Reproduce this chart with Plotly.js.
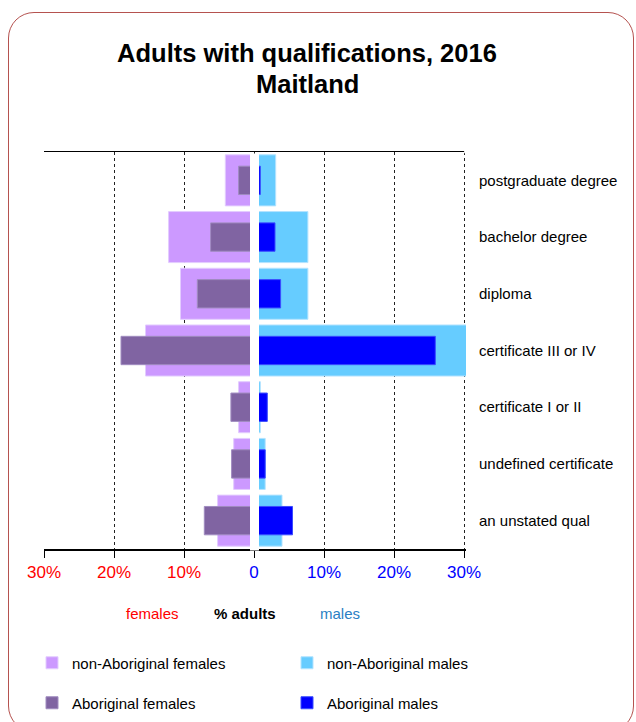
<!DOCTYPE html>
<html>
<head>
<meta charset="utf-8">
<script src="https://cdn.plot.ly/plotly-3.0.1.min.js"></script>
<style>
  html, body { margin: 0; padding: 0; background: #fff; }
  #wrap { position: relative; width: 636px; height: 722px; overflow: hidden; }
  #chart { position: absolute; left: 0; top: 0; width: 636px; height: 722px; }
  #frame { position: absolute; left: 8px; top: 12px; width: 626px; height: 720px;
           border: 1px solid #b5524f; border-radius: 26px; pointer-events: none; box-sizing: border-box; }
</style>
</head>
<body>
<div id="wrap">
  <div id="chart"></div>
  <div id="frame"></div>
</div>
<script>
// ---- data (percent of adults) ----
const categories = ["postgraduate degree", "bachelor degree", "diploma", "certificate III or IV",
                    "certificate I or II", "undefined certificate", "an unstated qual"];
const nonAboriginalFemales = [4.1, 12.2, 10.5, 15.5, 2.2, 2.9, 5.2];
const aboriginalFemales    = [2.2, 6.2, 8.1, 19.0, 3.3, 3.2, 7.1];
const nonAboriginalMales   = [3.1, 7.7, 7.7, 30.5, 0.9, 1.6, 4.0];
const aboriginalMales      = [0.9, 3.0, 3.8, 25.9, 1.9, 1.6, 5.5];
const tickValues = [-30, -20, -10, 0, 10, 20, 30];
const tickLabels = ["30%", "20%", "10%", "0", "10%", "20%", "30%"];

const FONT = "Liberation Sans, Arial, Helvetica, sans-serif";
const neg = a => a.map(v => -v);

const traces = [
  { type: "bar", orientation: "h", name: "non-Aboriginal females", y: categories, x: neg(nonAboriginalFemales),
    width: 0.9, marker: { color: "#cc99ff", line: { color: "#e3ccff", width: 1 } }, legend: "legend", hoverinfo: "y+name" },
  { type: "bar", orientation: "h", name: "non-Aboriginal males", y: categories, x: nonAboriginalMales,
    width: 0.9, marker: { color: "#66ccff", line: { color: "#b3e3ff", width: 1 } }, legend: "legend2", hoverinfo: "y+name" },
  { type: "bar", orientation: "h", name: "Aboriginal females", y: categories, x: neg(aboriginalFemales),
    width: 0.5, marker: { color: "#8064a2", line: { color: "#a08cc0", width: 1 } }, legend: "legend3", hoverinfo: "y+name" },
  { type: "bar", orientation: "h", name: "Aboriginal males", y: categories, x: aboriginalMales,
    width: 0.5, marker: { color: "#0000ff", line: { color: "#3a4cff", width: 1 } }, legend: "legend4", hoverinfo: "y+name" }
];

const coloredTicks = tickLabels.map((t, i) =>
  '<span style="color:' + (tickValues[i] < 0 ? '#ff0000' : '#0000ff') + '">' + t + '</span>');

function legendAt(px, py) {
  return {
    orientation: "h", xref: "container", yref: "container", x: px / 636, y: 1 - py / 722,
    xanchor: "left", yanchor: "middle",
    font: { family: FONT, size: 15, color: "#000" }, bgcolor: "rgba(0,0,0,0)"
  };
}

const layout = {
  width: 636, height: 722,
  margin: { l: 44, r: 170, t: 152, b: 173 },
  paper_bgcolor: "#ffffff", plot_bgcolor: "#ffffff",
  font: { family: FONT, size: 15, color: "#000" },
  barmode: "overlay",
  showlegend: true,
  title: {
    text: "<b>Adults with qualifications, 2016</b>",
    font: { family: FONT, size: 25.5, color: "#000" },
    xref: "container", x: 0.4827, xanchor: "center",
    yref: "container", y: 1 - 62 / 722, yanchor: "bottom", pad: { t: 0, b: 0 }
  },
  xaxis: {
    range: [-30, 30.286], fixedrange: true,
    tickvals: tickValues, ticktext: coloredTicks,
    tickfont: { family: FONT, size: 17 },
    showgrid: true, gridcolor: "#222", griddash: "dot", gridwidth: 1,
    zeroline: false,
    showline: true, linecolor: "#000", linewidth: 1.5, mirror: true,
    ticks: "outside", ticklen: 7, tickcolor: "#000", tickwidth: 1
  },
  yaxis: {
    type: "category", autorange: "reversed", side: "right",
    tickfont: { family: FONT, size: 15, color: "#000" },
    showgrid: false, zeroline: false, showline: false, ticks: "",
    ticklabelstandoff: 12, fixedrange: true
  },
  shapes: [
    { type: "rect", xref: "x", yref: "paper", x0: -0.571, x1: 0.714, y0: -0.004, y1: 0.996,
      fillcolor: "#ffffff", line: { width: 0 }, layer: "above" },
    { type: "rect", xref: "paper", yref: "paper", x0: 0.9955, x1: 1.01, y0: 0.997, y1: 1.01,
      fillcolor: "#ffffff", line: { width: 0 }, layer: "above" }
  ],
  annotations: [
    { text: "<b>Maitland</b>", xref: "paper", yref: "paper", x: (307 - 44) / 422, y: (549 - 84) / 397,
      xanchor: "center", yanchor: "middle", showarrow: false, font: { family: FONT, size: 25.5, color: "#000" } },
    { text: "females", xref: "paper", yref: "paper", x: (152 - 44) / 422, y: (549 - 613) / 397,
      xanchor: "center", yanchor: "middle", showarrow: false, font: { family: FONT, size: 15, color: "#ff0000" } },
    { text: "<b>% adults</b>", xref: "paper", yref: "paper", x: (245 - 44) / 422, y: (549 - 613) / 397,
      xanchor: "center", yanchor: "middle", showarrow: false, font: { family: FONT, size: 15, color: "#000" } },
    { text: "males", xref: "paper", yref: "paper", x: (340 - 44) / 422, y: (549 - 613) / 397,
      xanchor: "center", yanchor: "middle", showarrow: false, font: { family: FONT, size: 15, color: "#2a7fc4" } }
  ],
  legend: legendAt(32, 663),
  legend2: legendAt(287, 663),
  legend3: legendAt(32, 703),
  legend4: legendAt(287, 703)
};

Plotly.newPlot("chart", traces, layout, { displayModeBar: false, staticPlot: true });
</script>
</body>
</html>
